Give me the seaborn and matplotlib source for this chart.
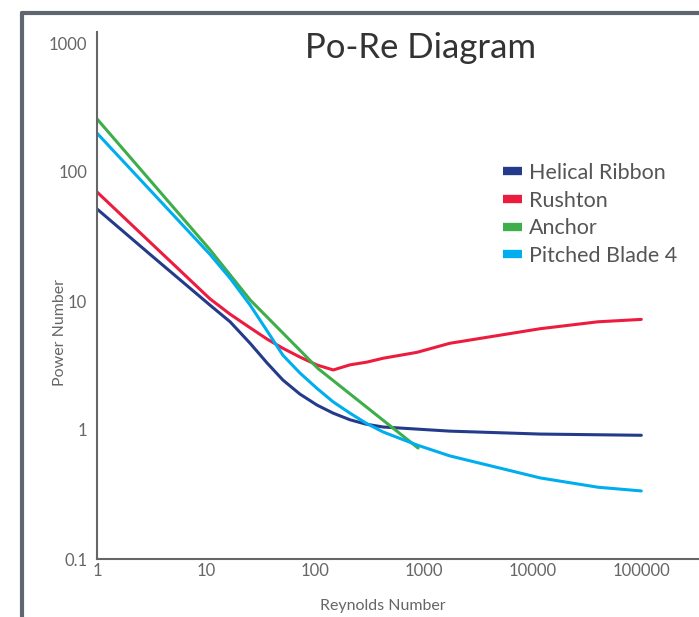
import numpy as np
import pandas as pd
import seaborn as sns
import matplotlib.pyplot as plt
from matplotlib.lines import Line2D
from matplotlib.ticker import FixedLocator, FixedFormatter

# values (Re, Po)
helical_re = [1, 3.07, 10.9, 16.7, 25.5, 36.6, 51, 73, 105, 148, 211, 296, 425, 1740, 11800, 100000]
helical_po = [51.7, 23, 9.3, 6.9, 4.7, 3.3, 2.44, 1.9, 1.56, 1.35, 1.2, 1.11, 1.055, 0.98, 0.93, 0.91]

rushton_re = [1, 10.9, 16.7, 25.5, 36.6, 51, 73, 105, 148, 211, 302, 425, 870, 1740, 11800, 40000, 100000]
rushton_po = [70, 10.4, 7.9, 6.2, 5.06, 4.3, 3.68, 3.19, 2.92, 3.2, 3.36, 3.6, 4.0, 4.7, 6.1, 6.9, 7.2]

anchor_re = [1, 10.9, 25.5, 107, 890]
anchor_po = [258, 25, 10.2, 3.0, 0.725]

pitched_re = [1, 10.9, 16.7, 25.5, 36.6, 51, 73, 105, 148, 211, 296, 425, 870, 1740, 11800, 40000, 100000]
pitched_po = [200, 23, 15, 9.3, 5.85, 3.8, 2.77, 2.1, 1.65, 1.35, 1.13, 0.965, 0.765, 0.63, 0.425, 0.36, 0.337]

names = ["Helical Ribbon", "Rushton", "Anchor", "Pitched Blade 4"]
colors = ["#243b8c", "#ec1c3f", "#3dae49", "#00adee"]

x_ticks = [1, 10, 100, 1000, 10000, 100000]
y_ticks = [0.1, 1, 10, 100, 1000]

frames = []
for name, re, po in zip(names, [helical_re, rushton_re, anchor_re, pitched_re],
                        [helical_po, rushton_po, anchor_po, pitched_po]):
    frames.append(pd.DataFrame({"Re": re, "Po": po, "impeller": name}))
df = pd.concat(frames, ignore_index=True)

sns.set_style("white")
plt.rcParams["font.family"] = ["Lato", "DejaVu Sans"]
grey = "#666666"

fig = plt.figure(figsize=(6.99, 6.17), dpi=100)
ax = fig.add_axes([97 / 699, 1 - 559 / 617, 1 - 97 / 699, (559 - 32) / 617])

sns.lineplot(data=df, x="Re", y="Po", hue="impeller", palette=dict(zip(names, colors)),
             linewidth=2.2, legend=False, ax=ax, sort=False, estimator=None)
ax.set_xscale("log")
ax.set_yscale("log")
ax.set_xlim(1, 10 ** 5.53)
ax.set_ylim(0.1, 10 ** (3 + 11 / 129))

ax.xaxis.set_major_locator(FixedLocator(x_ticks))
ax.xaxis.set_major_formatter(FixedFormatter([str(v) for v in x_ticks]))
ax.xaxis.set_minor_locator(FixedLocator([]))
ax.yaxis.set_major_locator(FixedLocator(y_ticks))
ax.yaxis.set_major_formatter(FixedFormatter(["0.1", "1", "10", "100", "1000"]))
ax.yaxis.set_minor_locator(FixedLocator([]))
ax.tick_params(axis="x", direction="in", length=6, width=1.5, color="#333333",
               labelsize=12, labelcolor=grey, pad=3)
ax.tick_params(axis="y", length=0, labelsize=12, labelcolor=grey, pad=7)

sns.despine(ax=ax)
for s in ["left", "bottom"]:
    ax.spines[s].set_color("#666666")
    ax.spines[s].set_linewidth(1.5)

ax.set_xlabel("Reynolds Number", fontsize=11.5, color=grey)
ax.set_ylabel("Power Number", fontsize=11.5, color=grey)
ax.xaxis.set_label_coords((383 - 97) / 602, (559 - 606) / 527)
ax.xaxis.label.set_va("center")
ax.yaxis.set_label_coords((60 - 97) / 602, (559 - 333) / 527)
ax.yaxis.label.set_va("center")

fig.text(421 / 699, 1 - 48 / 617, "Po-Re Diagram", fontsize=25, color="#333333",
         ha="center", va="center")

handles = [Line2D([], [], color=c, lw=6, solid_capstyle="butt") for c in colors]
leg = ax.legend(handles, names, loc="upper left", bbox_to_anchor=(492 / 699, 1 - 152 / 617),
                bbox_transform=fig.transFigure, frameon=False, fontsize=15.5,
                handlelength=0.9, handletextpad=0.3, labelspacing=0.36, borderpad=0)
for t in leg.get_texts():
    t.set_color("#555555")

# outer frame (top and left edges)
fig.add_artist(Line2D([22 / 699, 22 / 699], [0, 1 - 13 / 617], color="#5f666d", lw=3,
                      transform=fig.transFigure))
fig.add_artist(Line2D([22 / 699, 1], [1 - 13 / 617, 1 - 13 / 617], color="#5f666d", lw=3,
                      transform=fig.transFigure))

fig.savefig("out.png", dpi=100)
